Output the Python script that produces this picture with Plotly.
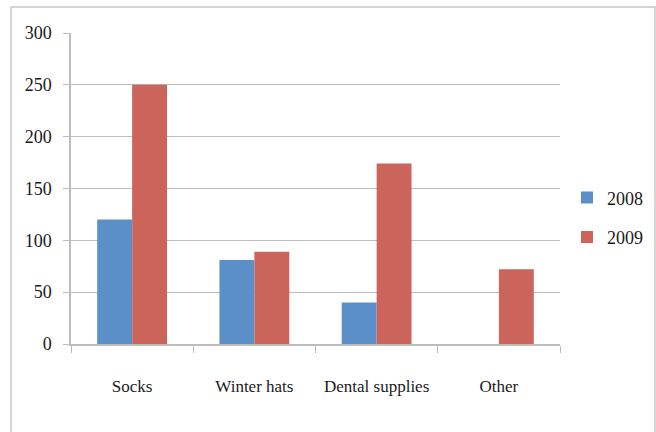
import plotly.graph_objects as go

categories = ["Socks", "Winter hats", "Dental supplies", "Other"]
series_2008 = [120, 81, 40, 0]
series_2009 = [250, 89, 174, 72]
y_ticks = [0, 50, 100, 150, 200, 250, 300]

FONT = "Liberation Serif, serif"
GRID = "#bdbdbd"

fig = go.Figure()
fig.add_trace(go.Bar(name="2008", x=categories, y=series_2008,
                     marker=dict(color="#5b8fc7", line=dict(width=0)),
                     legendgroup="a"))
fig.add_trace(go.Bar(name="2009", x=categories, y=series_2009,
                     marker=dict(color="#cb655c", line=dict(width=0)),
                     legendgroup="b"))

fig.update_layout(
    width=656, height=432,
    margin=dict(l=71, r=96, t=33, b=88, autoexpand=False),
    paper_bgcolor="white", plot_bgcolor="white",
    barmode="group", bargap=0.4286, bargroupgap=0,
    font=dict(family=FONT, size=18, color="#1a1a1a"),
    legend=dict(x=1.0143, xanchor="left", y=0.407, yanchor="middle",
                tracegroupgap=13, font=dict(size=18), bgcolor="rgba(0,0,0,0)"),
    xaxis=dict(showline=True, linecolor=GRID, linewidth=1.5, automargin=False,
               tickangle=0, tickfont=dict(size=17),
               ticks="outside", tickson="boundaries", ticklen=7, tickcolor=GRID,
               tickwidth=1, ticklabelstandoff=26, showgrid=False),
    yaxis=dict(range=[0, 300], tickvals=y_ticks, showgrid=True, gridcolor=GRID,
               gridwidth=1, showline=True, linecolor=GRID, linewidth=1.5,
               automargin=False,
               ticks="outside", ticklen=6, tickcolor=GRID, zeroline=False,
               ticklabelstandoff=8),
    shapes=[dict(type="rect", xref="paper", yref="paper",
                 x0=-0.1227, x1=1.1943, y0=-0.5, y1=1.0836,
                 line=dict(color="#c8c8c8", width=1.5), fillcolor="rgba(0,0,0,0)",
                 layer="below")],
)

fig.write_html("out.html", config={"displayModeBar": False},
               post_script="document.body.style.margin='0';document.body.style.overflow='hidden';")
